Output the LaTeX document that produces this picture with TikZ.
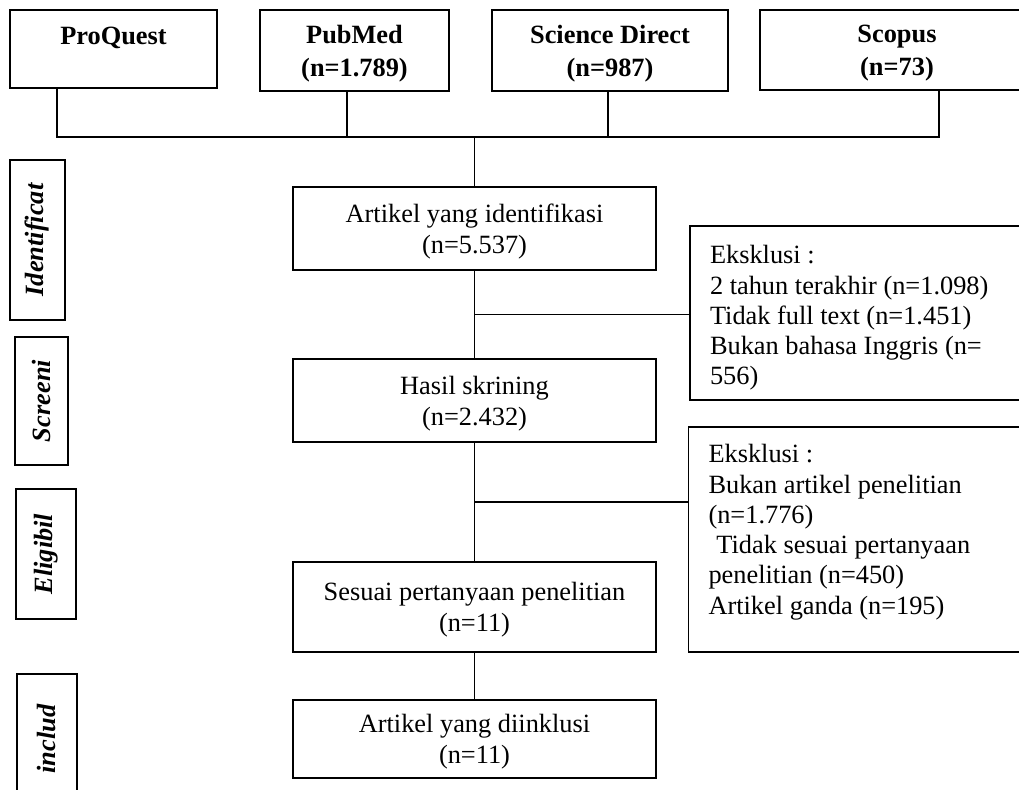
\documentclass[tikz,border=0pt]{standalone}
\usepackage{fontspec}
\setmainfont{Liberation Serif}
\usetikzlibrary{calc}
\tikzset{
	srcbox/.style={draw, line width=1pt, align=center, text depth=-4pt,
			font=\fontsize{15}{18.7}\selectfont\bfseries},
	flowbox/.style={draw, line width=1pt, align=center, minimum width=7.26cm,
			text depth=0pt, font=\fontsize{15}{17.6}\selectfont},
	exclbox/.style={draw, line width=1pt, align=flush left, text width=6.08cm,
			inner xsep=0.4cm, text height=16pt, font=\fontsize{15}{17.2}\selectfont},
	phasebox/.style={draw, line width=1.6pt, rotate=90,
			font=\fontsize{15}{18}\selectfont\bfseries\itshape}
}

\begin{document}
\begin{tikzpicture}[line width=1pt]
	\useasboundingbox (0,0) rectangle (20.38,-15.78);
	\clip (0,0) rectangle (20.38,-15.78);

	% Databases
	\node[srcbox, minimum width=4.14cm, minimum height=1.56cm] (pq) at (2.27,-0.98) {ProQuest\\[-4pt]\mbox{}};
	\node[srcbox, minimum width=3.78cm, minimum height=1.62cm] (pm) at (7.09,-1.01) {PubMed\\(n=1.789)};
	\node[srcbox, minimum width=4.72cm, minimum height=1.62cm] (sd) at (12.2,-1.01) {Science Direct\\(n=987)};
	\node[srcbox, minimum width=5.48cm, minimum height=1.6cm] (sc) at (17.94,-1.0) {Scopus\\(n=73)};

	% Joining line under the databases
	\coordinate (d1) at (1.14,-2.74);
	\coordinate (d2) at (6.94,-2.74);
	\coordinate (d3) at (12.16,-2.74);
	\coordinate (d4) at (18.78,-2.74);
	\draw (d1 |- pq.south) -- (d1) -- (d4) -- (d4 |- sc.south);
	\draw (d2 |- pm.south) -- (d2);
	\draw (d3 |- sd.south) -- (d3);

	% Main flow
	\node[flowbox, minimum height=1.66cm] (ident) at (9.49,-4.57) {Artikel yang identifikasi\\(n=5.537)};
	\node[flowbox, minimum height=1.66cm] (hasil) at (9.49,-8.01) {Hasil skrining\\(n=2.432)};
	\node[flowbox, minimum height=1.8cm] (sesuai) at (9.49,-12.14) {Sesuai pertanyaan penelitian\\(n=11)};
	\node[flowbox, minimum height=1.56cm] (inkl) at (9.49,-14.78) {Artikel yang diinklusi\\(n=11)};

	\draw (ident.north |- d1) -- (ident.north);
	\draw (ident.south) -- (hasil.north);
	\draw (hasil.south) -- (sesuai.north);
	\draw (sesuai.south) -- (inkl.north);

	% Exclusions
	\node[exclbox, minimum height=3.48cm] (excl1) at (17.24,-6.26)
		{Eksklusi :\\2 tahun terakhir (n=1.098)\\Tidak full text (n=1.451)\\Bukan bahasa Inggris (n=\\556)};
	\node[exclbox, minimum height=4.5cm] (excl2) at (17.21,-10.79)
		{Eksklusi :\\Bukan artikel penelitian\\(n=1.776)\\\hspace*{0.3em}Tidak sesuai pertanyaan\\penelitian (n=450)\\Artikel ganda (n=195)\\\mbox{}};

	\coordinate (b1) at ($(ident.south)!0.5!(hasil.north)$);
	\coordinate (b2) at ($(hasil.south)!0.5!(sesuai.north)$);
	\draw (b1) -- (b1 -| excl1.west);
	\draw (b2) -- (b2 -| excl2.west);

	% Phases on the left
	\node[phasebox, minimum width=3.2cm, minimum height=1.1cm] (ph1) at (0.75,-4.8) {Identificat};
	\node[phasebox, minimum width=2.56cm, minimum height=1.06cm] (ph2) at (0.83,-8.02) {Screeni};
	\node[phasebox, minimum width=2.6cm, minimum height=1.2cm] (ph3) at (0.92,-11.08) {Eligibil};
	\node[phasebox, minimum width=2.6cm, minimum height=1.2cm] (ph4) at (0.94,-14.78) {includ};
\end{tikzpicture}
\end{document}
